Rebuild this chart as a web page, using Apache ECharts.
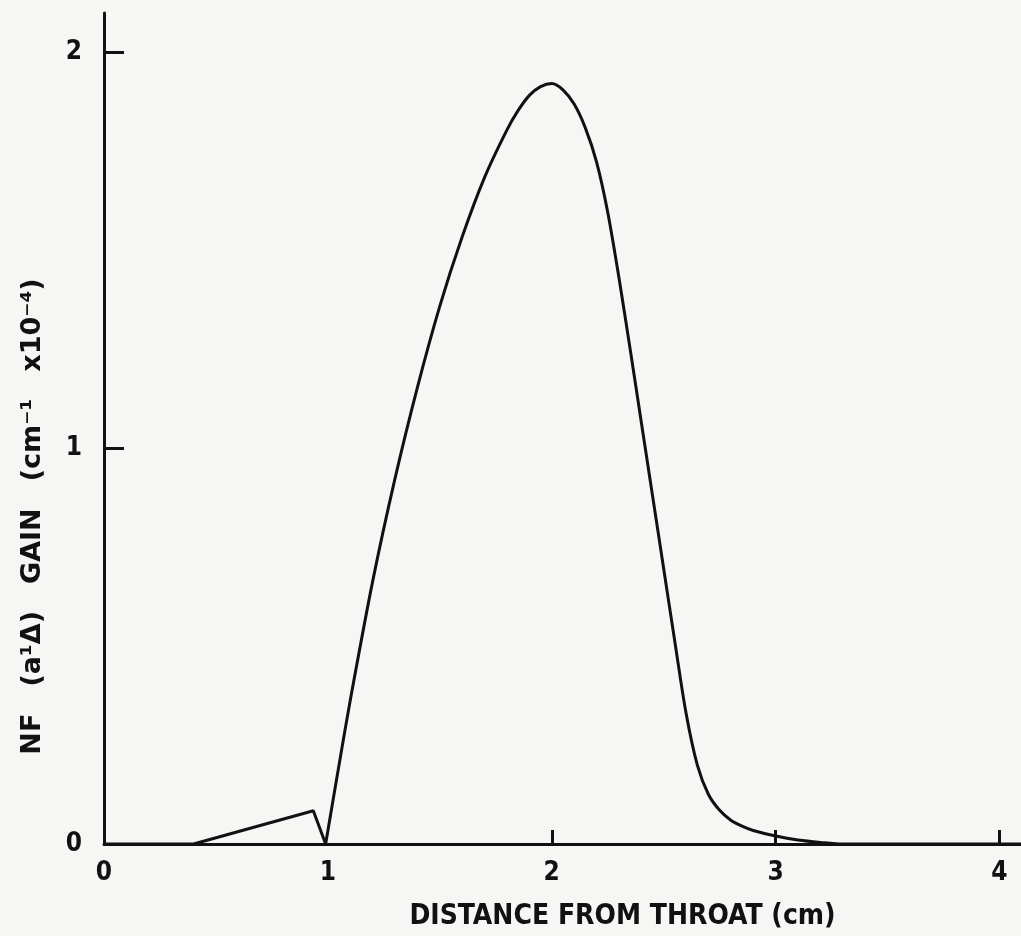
<!DOCTYPE html>
<html>
<head>
<meta charset="utf-8">
<script src="https://cdn.jsdelivr.net/npm/echarts@6/dist/echarts.min.js"></script>
<style>
  html, body { margin: 0; padding: 0; background: #f6f6f4; }
  #gain_chart { width: 1021px; height: 936px; }
</style>
</head>
<body>
<div id="gain_chart"></div>
<script>
// small bump ahead of the throat region (straight segments)
var bumpX = [0, 0.40, 0.935, 0.99];
var bumpY = [0, 0, 0.084, 0];

// main gain curve
var curveX = [0.99, 1.05, 1.1, 1.2, 1.3, 1.4, 1.5, 1.6, 1.7, 1.8, 1.85, 1.9, 1.95, 2.0, 2.05, 2.1, 2.15, 2.2, 2.25, 2.3, 2.35, 2.4, 2.45, 2.5, 2.55, 2.6, 2.65, 2.7, 2.75, 2.8, 2.85, 2.9, 3.0, 3.1, 3.2, 3.3, 4.1];
var curveY = [0, 0.20, 0.363, 0.663, 0.923, 1.153, 1.358, 1.533, 1.683, 1.803, 1.852, 1.890, 1.912, 1.920, 1.904, 1.868, 1.808, 1.722, 1.595, 1.430, 1.250, 1.065, 0.880, 0.695, 0.510, 0.330, 0.200, 0.125, 0.085, 0.060, 0.045, 0.034, 0.020, 0.010, 0.004, 0, 0];

var xLabels = [0, 1, 2, 3, 4];
var xTicks = [2, 3, 4];
var yLabels = [0, 1, 2];
var yTicks = [1, 2];

function pairs(xs, ys) {
	var out = [];
	for (var i = 0; i < xs.length; i++) {
		out.push([xs[i], ys[i]]);
	}
	return out;
}

var font = 'DejaVu Sans Condensed';
var ink = '#111';

var myChart = echarts.init(document.getElementById('gain_chart'));

var option = {
	backgroundColor: '#f6f6f4',
	animation: false,
	grid: { left: 104, right: 0, top: 13, bottom: 90 },
	xAxis: {
		type: 'value',
		min: 0,
		max: 4.096,
		name: 'DISTANCE FROM THROAT (cm)',
		nameLocation: 'middle',
		nameGap: 59,
		nameTextStyle: { fontFamily: font, fontWeight: 'bold', fontSize: 28, color: ink, padding: [0, 0, 0, 120] },
		axisLine: { lineStyle: { color: ink, width: 3 } },
		axisTick: { customValues: xTicks, inside: true, length: 14, lineStyle: { color: ink, width: 3 } },
		axisLabel: { customValues: xLabels, margin: 16, fontFamily: font, fontWeight: 'bold', fontSize: 26, color: ink },
		splitLine: { show: false }
	},
	yAxis: {
		type: 'value',
		min: 0,
		max: 2.098,
		name: 'NF\u2003(a¹Δ)\u2003GAIN\u2003(cm⁻¹\u2003x10⁻⁴)',
		nameLocation: 'middle',
		nameGap: 58,
		nameTextStyle: { fontFamily: 'DejaVu Sans', fontWeight: 'bold', fontSize: 27, color: ink, padding: [0, 176, 0, 0] },
		axisLine: { lineStyle: { color: ink, width: 3 } },
		axisTick: { customValues: yTicks, inside: true, length: 20, lineStyle: { color: ink, width: 3 } },
		axisLabel: { customValues: yLabels, margin: 22, fontFamily: font, fontWeight: 'bold', fontSize: 26, color: ink },
		splitLine: { show: false }
	},
	series: [{
		type: 'line',
		data: pairs(bumpX, bumpY),
		symbol: 'none',
		lineStyle: { color: ink, width: 3 }
	}, {
		type: 'line',
		data: pairs(curveX, curveY),
		symbol: 'none',
		smooth: 0.3,
		lineStyle: { color: ink, width: 3 }
	}]
};

myChart.setOption(option, true);
</script>
</body>
</html>
